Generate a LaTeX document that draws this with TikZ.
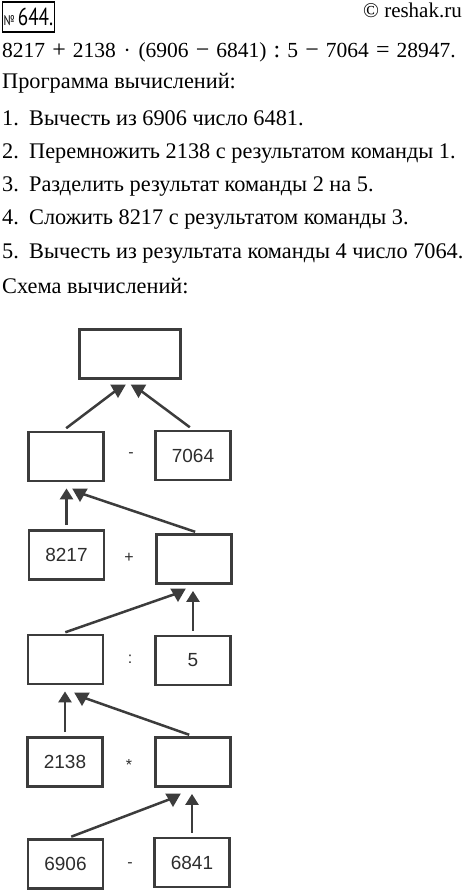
\documentclass[tikz,border=0pt]{standalone}
\usepackage{fontspec}
\setmainfont{Liberation Serif}
\newfontfamily\diagfont{Liberation Sans}
\newfontfamily\numfont[FakeStretch=0.78]{PT Sans}
\usetikzlibrary{arrows.meta,shapes.geometric}
\definecolor{boxcol}{RGB}{60,60,60}
\definecolor{txtcol}{RGB}{45,45,45}
\newcommand\osp[1]{\hspace{0.33em}{\fontsize{24}{26}\selectfont #1}\hspace{0.33em}}
\newcommand\dsp[1]{\hspace{0.36em}#1\hspace{0.36em}}
\begin{document}
\begin{tikzpicture}[x=1pt,y=-1pt,
  txt/.style={anchor=base west,inner sep=0pt,font=\fontsize{22.3}{26}\selectfont},
  cell/.style={draw=boxcol,line width=2.8pt,minimum width=75pt,minimum height=49pt,inner sep=0pt,font=\diagfont\fontsize{19}{22}\selectfont,text=txtcol},
  op/.style={inner sep=0pt,font=\diagfont\fontsize{16}{18}\selectfont,text=txtcol},
  tri/.style={regular polygon,regular polygon sides=3,shape border rotate=180,fill=boxcol,draw=none,minimum size=18pt,inner sep=0pt},
  link/.style={draw=boxcol,line width=2.5pt,shorten <=4pt},
  up/.style={link,-{Triangle[width=13pt,length=11pt]},shorten >=6pt}
]
\path[use as bounding box] (0,0) rectangle (466,895);

% header
\node[draw=black,line width=1.5pt,minimum width=52pt,minimum height=30pt,inner sep=0pt] (num) at (28.5,17)
  {\numfont{\fontsize{14}{14}\selectfont №}\hspace{3pt}{\fontsize{24.5}{24}\selectfont 644.}};
\node[anchor=base east,inner sep=0pt,font=\fontsize{21}{24}\selectfont] (cp) at (462,17) {© reshak.ru};

% text
\node[txt,font=\fontsize{21.5}{26}\selectfont] (eq) at (2,57)
  {8217\osp{+}2138\dsp{·}(6906\osp{−}6841)\osp{:}5\osp{−}7064\osp{=}28947.};
\node[txt] (prog) at (2,88) {Программа вычислений:};
\node[txt] (n1) at (2,125) {1.};
\node[txt] (l1) at (29,125) {Вычесть из 6906 число 6481.};
\node[txt] (n2) at (2,158) {2.};
\node[txt] (l2) at (29,158) {Перемножить 2138 с результатом команды 1.};
\node[txt] (n3) at (2,191) {3.};
\node[txt] (l3) at (29,191) {Разделить результат команды 2 на 5.};
\node[txt] (n4) at (2,224) {4.};
\node[txt] (l4) at (29,224) {Сложить 8217 с результатом команды 3.};
\node[txt] (n5) at (2,258) {5.};
\node[txt] (l5) at (29,258) {Вычесть из результата команды 4 число 7064.};
\node[txt] (sch) at (2,293) {Схема вычислений:};

% diagram boxes
\node[cell,minimum width=101pt] (top) at (130,354) {};
\node[cell] (r2L) at (66,456.5) {};
\node[cell] (r2R) at (193,455.5) {7064};
\node[cell] (r3L) at (66.5,555) {8217};
\node[cell] (r3R) at (194,559) {};
\node[cell] (r4L) at (65.5,659.5) {};
\node[cell] (r4R) at (193,660.5) {5};
\node[cell] (r5L) at (65,762) {2138};
\node[cell] (r5R) at (193,762) {};
\node[cell] (r6L) at (65.5,864) {6906};
\node[cell] (r6R) at (192,862.5) {6841};

% operators
\node[op] (o2) at (131,455) {-};
\node[op] (o3) at (129,558) {+};
\node[op] (o4) at (130,659) {:};
\node[op] (o5) at (129,765) {*};
\node[op] (o6) at (130,865) {-};

% arrowheads of slanted links
\node[tri] (t1) at (118,389) {};
\node[tri] (t2) at (138.5,389) {};
\node[tri] (t3) at (80,493) {};
\node[tri] (t4) at (178,593) {};
\node[tri] (t5) at (82,697) {};
\node[tri] (t6) at (173,798) {};

% links
\draw[link] ([xshift=-3pt]r2L.north) -- (t1.center);
\draw[link] (r2R.north) -- (t2.center);
\draw[up] (r3L.north) -- (r3L.north |- r2L.south);
\draw[link] ([xshift=5pt]r3R.north) -- (t3.center);
\draw[link] ([xshift=-4pt]r4L.north) -- (t4.center);
\draw[up] (r4R.north) -- (r4R.north |- r3R.south);
\draw[up] (r5L.north) -- (r5L.north |- r4L.south);
\draw[link] (r5R.north) -- (t5.center);
\draw[link] ([xshift=2pt]r6L.north) -- (t6.center);
\draw[up] (r6R.north) -- (r6R.north |- r5R.south);
\end{tikzpicture}
\end{document}
